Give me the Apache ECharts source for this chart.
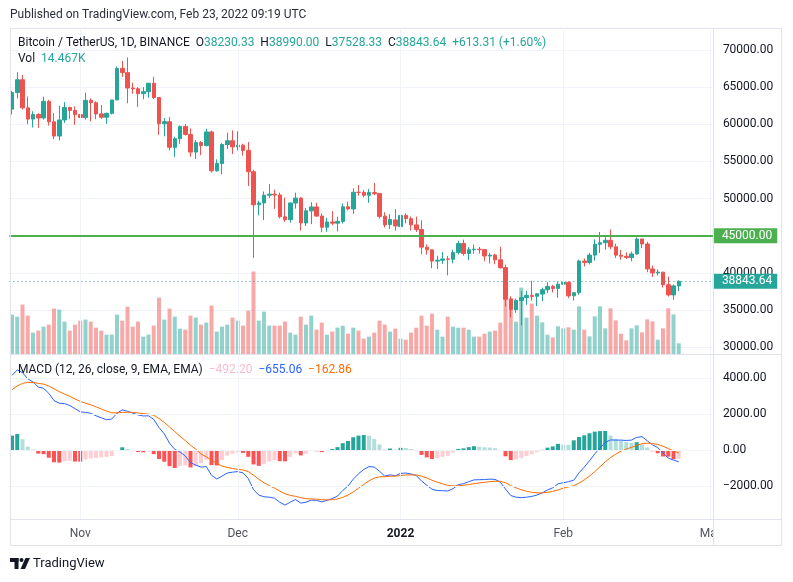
<!DOCTYPE html>
<html>
<head>
<meta charset="UTF-8">
<title>Bitcoin / TetherUS, 1D</title>
<script src="https://cdn.jsdelivr.net/npm/echarts@6/dist/echarts.min.js"></script>
<style>
html,body{margin:0;padding:0;background:#fff;}
#chart{width:793px;height:582px;}
</style>
</head>
<body>
<div id="chart"></div>
<script>
// BINANCE BTCUSDT daily, 2021-10-19 .. 2022-02-23
var firstDay = [2021, 9, 19];
var slotCount = 134; // candles + empty slots up to Mar 1

var opens = [62031,64262,65993,62210,60694,61308,60853,63079,60328,58413,60575,62253,61859,
  61300,60911,63220,62896,61396,60940,61470,63273,67525,66947,64883,64774,64123,64380,65520,63606,60058,60345,56891,58057,59707,58617,56247,57541,57138,58960,53723,54716,57274,57776,
  56950,57184,56485,53601,49153,49397,50441,50588,50471,47536,47140,49389,50053,46702,48336,48864,47633,46134,46834,46681,46914,48887,48588,50838,50820,50428,50803,50680,47623,46490,47120,
  46216,47722,47286,46446,45832,43451,43082,41566,41680,41865,41821,42735,43946,42592,43099,43172,43118,42250,42375,41744,40699,36471,35030,36276,36655,36950,36841,37128,37717,38166,37881,
  38466,38694,36896,37311,41571,41382,42380,43839,44043,44373,43495,42373,42217,42053,42536,44544,43874,40516,39975,40080,38387,37017,38230.33];
var highs = [64486,67000,66639,63732,61747,61490,63710,63293,61496,62499,62980,62359,62405,
  62437,64270,63500,63086,62595,61560,63286,67789,68524,69000,65600,65000,65000,65550,66401,63617,60840,60977,58320,59845,60029,59444,57880,57735,59398,59150,55280,57445,58865,59176,
  59053,57375,57600,53859,49699,50939,51936,51200,50797,50125,49485,50777,50189,48700,49500,49436,47995,47392,48300,47537,49328,49576,51375,51810,51156,51280,52088,50704,48143,47900,48548,
  47954,47990,47570,47557,47070,43816,43145,42300,42786,42248,43100,44322,44459,43448,43800,43475,43180,42691,42579,43505,41100,36835,36499,37550,37545,38919,37234,38000,38720,38359,38744,
  39265,38855,37387,41772,41913,42656,44500,45492,44799,45821,43920,43079,42760,42842,44751,44585,44164,40959,40444,40125,39494,38425,38990];
var lows = [61322,63482,62000,60000,59562,59510,60650,59817,58000,57820,60174,60673,59945,
  59405,60624,60382,60677,60721,60050,61322,63273,66382,62822,64100,62333,63360,63576,63400,58574,58373,56474,55600,57353,58486,55610,55317,55837,57000,53500,53610,53256,56666,56000,
  56458,55777,51680,42000,47727,47100,50039,48600,47320,46852,46751,48638,45672,46290,46547,47511,45456,45500,46406,45558,46630,48421,47920,50384,50142,49412,50449,47313,46096,45900,45678,
  46208,46654,45696,45500,42500,42430,40610,40501,41200,39650,41268,42464,42311,41725,42555,42581,41540,41250,41138,40553,35440,34008,34601,32917,35701,36234,35507,36155,37268,37351,36632,
  38000,36586,36250,37026,40843,41116,41645,42666,43117,43174,42000,41748,41870,41550,42428,43310,40073,39450,39639,38000,36800,36350,37528.33];
var closes = [64262,65993,62210,60693,61308,60852,63078,60328,58413,60575,62253,61859,61299,
  60911,63219,62896,61395,60937,61470,63273,67525,66947,64882,64774,64122,64380,65519,63606,60058,60344,56891,58052,59707,58623,56247,57541,57138,58960,53726,54721,57274,57776,56950,
  57184,56480,53601,49152,49397,50441,50589,50471,47545,47140,49389,50053,46702,48343,48864,47632,46131,46834,46681,46914,48889,48588,50838,50821,50428,50809,50640,47588,46444,47178,46306,
  47722,47286,46446,45832,43451,43082,41566,41680,41864,41822,42735,43950,42591,43099,43177,43113,42250,42375,41744,40680,36445,35071,36276,36654,36954,36809,37160,37717,38166,37881,38466,
  38694,36896,37311,41574,41382,42380,43839,44043,44373,43495,42373,42217,42053,42535,44544,43874,40515,39975,40080,38387,37017,38230.33,38843.64];
// volume, thousands of BTC
var volumes = [53.1,50.4,66.6,51.8,28.8,31.5,36.9,39.6,61.2,59.9,43.7,31.5,39.6,
  45.0,46.4,43.7,35.6,31.5,26.1,26.1,53.1,45.0,63.9,36.9,43.7,23.4,26.1,38.3,76.1,46.4,61.2,50.4,34.2,32.9,51.8,49.1,39.6,42.3,65.3,30.2,36.9,39.6,49.1,
  45.0,38.3,58.5,111.2,45.0,57.2,38.3,38.3,38.3,43.7,28.8,26.1,50.4,39.6,51.8,32.9,42.3,26.1,30.2,35.6,38.2,27.4,35.5,31.5,20.7,23.4,28.8,45.0,39.6,30.2,34.2,
  20.7,19.3,28.8,35.5,51.7,38.2,54.4,32.8,23.4,50.4,36.9,35.5,35.5,32.8,23.4,23.4,27.4,30.2,31.5,42.3,88.2,74.7,43.6,89.5,49.0,67.9,51.7,42.7,26.0,22.4,37.3,
  34.6,35.9,32.8,64.3,32.8,23.8,50.8,64.3,34.6,61.6,45.4,27.4,18.4,34.6,38.6,29.2,46.7,44.0,19.3,34.6,61.6,53.5,14.467];
// MACD (12, 26, close, 9)
var macdLine = [4150,4450,4300,3950,3780,3500,3430,3150,2750,2600,2580,2470,2300,
  2120,2090,2040,1900,1790,1680,1720,2040,2230,2150,2050,1950,1890,1900,1700,1250,900,380,40,-110,-330,-700,-840,-950,-920,-1400,-1610,-1450,-1280,-1230,
  -1200,-1270,-1580,-2200,-2500,-2600,-2620,-2680,-2900,-3060,-2900,-2750,-2950,-2900,-2780,-2800,-2880,-2800,-2700,-2560,-2250,-2000,-1620,-1320,-1080,-920,-950,-1180,-1450,-1380,-1430,
  -1300,-1280,-1330,-1420,-1720,-1960,-2180,-2250,-2260,-2280,-2150,-1930,-1870,-1760,-1660,-1650,-1640,-1620,-1630,-1780,-2170,-2530,-2620,-2650,-2620,-2580,-2500,-2380,-2220,-2100,-1880,
  -1820,-1760,-1680,-1270,-950,-600,-220,120,420,560,550,550,530,550,700,740,510,290,130,-150,-450,-560,-655.06];
var signalLine = [3350,3560,3700,3760,3750,3700,3660,3560,3400,3240,3110,2980,2840,
  2700,2600,2510,2400,2280,2160,2070,2060,2090,2100,2090,2060,2020,1990,1930,1750,1530,1280,1020,770,520,270,40,-220,-380,-560,-750,-890,-970,-1030,
  -1070,-1110,-1200,-1400,-1620,-1820,-1980,-2120,-2280,-2430,-2520,-2570,-2650,-2700,-2720,-2730,-2760,-2770,-2760,-2720,-2630,-2500,-2330,-2120,-1910,-1710,-1560,-1490,-1480,-1460,-1450,
  -1420,-1390,-1380,-1390,-1450,-1550,-1680,-1790,-1880,-1960,-2000,-1990,-1960,-1920,-1870,-1830,-1790,-1760,-1730,-1740,-1820,-1970,-2100,-2210,-2290,-2350,-2380,-2380,-2350,-2300,-2220,
  -2120,-2050,-1980,-1840,-1660,-1450,-1200,-930,-660,-420,-230,-70,50,150,260,350,380,360,310,210,80,-50,-162.86];
var macdHist = [800,890,600,190,30,-200,-230,-430,-680,-700,-620,-600,-640,
  -650,-520,-470,-440,-410,-380,-340,-20,150,60,-60,-110,-130,-90,-230,-500,-650,-900,-1000,-880,-850,-970,-880,-730,-540,-840,-860,-560,-310,-200,
  -130,-160,-380,-800,-880,-780,-640,-560,-620,-630,-380,-180,-300,-200,-60,-70,-120,-30,60,160,380,500,710,800,830,790,610,310,30,80,20,
  120,110,50,-30,-270,-410,-500,-460,-380,-320,-150,60,90,160,210,180,150,140,100,-40,-350,-560,-520,-440,-330,-230,-120,10,130,200,340,
  300,290,540,720,820,930,1020,1050,1060,800,620,520,440,400,430,300,140,-70,-180,-360,-370,-510,-492.20];

var priceMin = 30000, priceMax = 70000, priceStep = 5000;
var macdTicks = [4000, 2000, 0, -2000];
var levelPrice = 45000;
var monthNames = ['Jan','Feb','Mar','Apr','May','Jun','Jul','Aug','Sep','Oct','Nov','Dec'];

var up = '#26a69a', down = '#ef5350';
var FONT = 'Roboto, "Noto Sans", sans-serif';

var days = [];
var t0 = Date.UTC(firstDay[0], firstDay[1], firstDay[2]);
for (var i = 0; i < slotCount; i++) {
  days.push(new Date(t0 + i * 86400000).toISOString().slice(0, 10));
}
var monthStarts = days.filter(function (d) { return d.slice(8) === '01'; });

var candles = [], vols = [], hist = [];
for (var i = 0; i < closes.length; i++) {
  candles.push([opens[i], closes[i], lows[i], highs[i]]);
  vols.push({value: volumes[i], itemStyle: {color: closes[i] >= opens[i] ? 'rgba(38,166,154,0.5)' : 'rgba(239,83,80,0.5)'}});
  var v = macdHist[i], p = i > 0 ? macdHist[i - 1] : 0;
  var c = v >= 0 ? (v >= p ? '#26a69a' : '#b2dfdb') : (v >= p ? '#ffcdd2' : '#ff5252');
  hist.push({value: v, itemStyle: {color: c}});
}

function fmt(v) {
  var s = Math.abs(v).toFixed(2);
  return v < 0 ? '\u2212' + s : s;
}

var n = closes.length - 1;
var chg = closes[n] - closes[n - 1];
var pct = chg / closes[n - 1] * 100;
var gridLine = '#f0f3fa';
var L = 9.375, W = 703.5;

var vLines = monthStarts.map(function (d) { return {xAxis: d}; });

var myChart = echarts.init(document.getElementById('chart'));
var option = {
  animation: false,
  backgroundColor: '#fff',
  textStyle: {fontFamily: FONT},
  grid: [
    {left: L, width: W, top: 50, height: 297, outerBoundsMode: 'none'},
    {left: L, width: W, top: 30, height: 324, outerBoundsMode: 'none'},
    {left: L, width: W, top: 355, height: 164, outerBoundsMode: 'none'}
  ],
  xAxis: [
    {type: 'category', gridIndex: 0, data: days, show: false},
    {type: 'category', gridIndex: 1, data: days, show: false},
    {type: 'category', gridIndex: 2, data: days,
      axisLine: {show: false}, axisTick: {show: false}, splitLine: {show: false},
      axisLabel: {
        interval: function (idx, val) { return val.slice(8) === '01'; },
        margin: 9,
        fontSize: 12,
        fontFamily: FONT,
        color: '#50535e',
        formatter: function (val) {
          var m = +val.slice(5, 7);
          if (m === 1) return '{y|' + val.slice(0, 4) + '}';
          return monthNames[m - 1];
        },
        rich: {y: {color: '#131722', fontSize: 12, fontWeight: 'bold', fontFamily: FONT}}
      }
    }
  ],
  yAxis: [
    {type: 'value', gridIndex: 0, position: 'right', min: priceMin, max: priceMax, interval: priceStep,
      axisLine: {show: false}, axisTick: {show: false},
      splitLine: {lineStyle: {color: gridLine}},
      axisLabel: {margin: 10, color: '#131722', fontSize: 12, fontFamily: FONT,
        formatter: function (v) { return v.toFixed(2); }}
    },
    {type: 'value', gridIndex: 1, min: 0, max: 437, show: false},
    {type: 'value', gridIndex: 2, position: 'right', min: -3833, max: 5278,
      axisLine: {show: false}, axisTick: {show: false}, splitLine: {show: false},
      axisLabel: {margin: 10, color: '#131722', fontSize: 12, fontFamily: FONT,
        customValues: macdTicks, formatter: function (v) { return fmt(v); }}
    }
  ],
  series: [
    {
      name: 'Vol', type: 'bar', xAxisIndex: 1, yAxisIndex: 1, data: vols, barWidth: 4, z: 1,
      markLine: {silent: true, symbol: 'none', label: {show: false},
        lineStyle: {color: gridLine, width: 1, type: 'solid'}, data: vLines}
    },
    {
      name: 'BTCUSDT', type: 'candlestick', xAxisIndex: 0, yAxisIndex: 0, data: candles, barWidth: 4, z: 3,
      itemStyle: {color: up, color0: down, borderColor: up, borderColor0: down, borderWidth: 1},
      markLine: {
        silent: true, symbol: 'none', z: 5,
        data: [
          {yAxis: levelPrice, lineStyle: {color: '#4caf50', width: 2, type: 'solid'},
            label: {show: true, position: 'end', distance: 0, formatter: levelPrice.toFixed(2),
              color: '#fff', backgroundColor: '#4caf50', padding: [2, 5, 1, 9], fontSize: 12, fontFamily: FONT}},
          {yAxis: closes[n], lineStyle: {color: up, width: 1, type: [1, 3]},
            label: {show: true, position: 'end', distance: 0, formatter: closes[n].toFixed(2),
              color: '#fff', backgroundColor: up, padding: [2, 5, 1, 9], fontSize: 12, fontFamily: FONT}}
        ]
      }
    },
    {
      name: 'Histogram', type: 'bar', xAxisIndex: 2, yAxisIndex: 2, data: hist, barWidth: 4, z: 2,
      markLine: {silent: true, symbol: 'none', label: {show: false},
        lineStyle: {color: gridLine, width: 1, type: 'solid'},
        data: vLines.concat(macdTicks.map(function (t) { return {yAxis: t}; }))}
    },
    {
      name: 'MACD', type: 'line', xAxisIndex: 2, yAxisIndex: 2, data: macdLine, showSymbol: false, z: 3,
      lineStyle: {color: '#2962ff', width: 1}
    },
    {
      name: 'Signal', type: 'line', xAxisIndex: 2, yAxisIndex: 2, data: signalLine, showSymbol: false, z: 3,
      lineStyle: {color: '#ff6d00', width: 1}
    }
  ],
  graphic: [
    {type: 'text', x: 10, y: 15, z: 100, style: {text: 'Published on TradingView.com, Feb 23, 2022 09:19 UTC',
      font: '12px ' + FONT, fill: '#2a2e39', verticalAlign: 'middle'}},
    // clip the time scale under the price column
    {type: 'rect', z: 100, shape: {x: 713.5, y: 520, width: 68, height: 25.5}, style: {fill: '#fff'}},
    {type: 'rect', z: 101, shape: {x: 10.5, y: 28.5, width: 771, height: 517}, style: {fill: 'none', stroke: '#e0e3eb', lineWidth: 1}},
    {type: 'line', z: 101, shape: {x1: 713.5, y1: 28.5, x2: 713.5, y2: 545.5}, style: {stroke: '#e0e3eb', lineWidth: 1}},
    {type: 'line', z: 101, shape: {x1: 10.5, y1: 354.5, x2: 781.5, y2: 354.5}, style: {stroke: '#e0e3eb', lineWidth: 1}},
    {type: 'line', z: 101, shape: {x1: 10.5, y1: 519.5, x2: 781.5, y2: 519.5}, style: {stroke: '#e0e3eb', lineWidth: 1}},
    {type: 'text', x: 18, y: 43, z: 100, style: {
      text: '{t|Bitcoin / TetherUS, 1D, BINANCE}  {t|O}{v|' + opens[n].toFixed(2) + '}  {t|H}{v|' + highs[n].toFixed(2) +
        '}  {t|L}{v|' + lows[n].toFixed(2) + '}  {t|C}{v|' + closes[n].toFixed(2) + '}  {v|+' + chg.toFixed(2) + ' (+' + pct.toFixed(2) + '%)}',
      font: '12px ' + FONT, verticalAlign: 'middle',
      rich: {t: {fill: '#131722', font: '12px ' + FONT}, v: {fill: up, font: '12px ' + FONT}}}},
    {type: 'text', x: 18, y: 59, z: 100, style: {
      text: '{t|Vol}  {v|' + volumes[n].toFixed(3) + 'K}', font: '12px ' + FONT, verticalAlign: 'middle',
      rich: {t: {fill: '#131722', font: '12px ' + FONT}, v: {fill: up, font: '12px ' + FONT}}}},
    {type: 'text', x: 18, y: 370, z: 100, style: {
      text: '{t|MACD (12, 26, close, 9, EMA, EMA)}  {h|' + fmt(macdHist[n]) + '}  {m|' + fmt(macdLine[n]) + '}  {s|' + fmt(signalLine[n]) + '}',
      font: '12px ' + FONT, verticalAlign: 'middle',
      rich: {t: {fill: '#131722', font: '12px ' + FONT}, h: {fill: '#f8bbd0', font: '12px ' + FONT},
        m: {fill: '#2962ff', font: '12px ' + FONT}, s: {fill: '#ff6d00', font: '12px ' + FONT}}}},
    // TradingView mark
    {type: 'rect', z: 100, shape: {x: 10, y: 558, width: 8.5, height: 4}, style: {fill: '#131722'}},
    {type: 'rect', z: 100, shape: {x: 14.5, y: 558, width: 4, height: 11}, style: {fill: '#131722'}},
    {type: 'circle', z: 100, shape: {cx: 21.5, cy: 560, r: 2}, style: {fill: '#131722'}},
    {type: 'polygon', z: 100, shape: {points: [[25.5, 558], [30, 558], [25, 569], [20.5, 569]]}, style: {fill: '#131722'}},
    {type: 'text', x: 33, y: 564, z: 100, style: {text: 'TradingView', font: '13px ' + FONT, fill: '#131722', verticalAlign: 'middle'}}
  ]
};
myChart.setOption(option);
</script>
</body>
</html>
